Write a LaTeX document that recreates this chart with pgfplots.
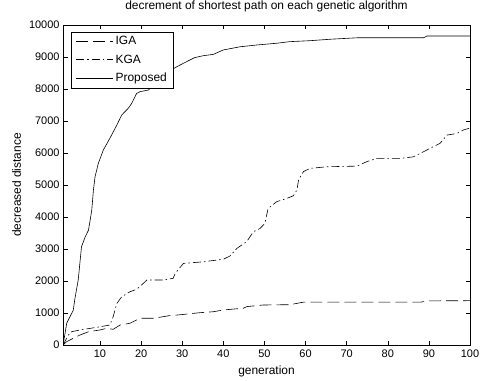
\documentclass[border=0pt]{standalone}
\usepackage{fontspec}
\setmainfont{Liberation Sans}
\usepackage{pgfplots}
\pgfplotsset{compat=1.18}
\begin{document}
\begin{tikzpicture}[x=1bp,y=1bp]
\useasboundingbox (-63,-35) rectangle (417,345);
\begin{axis}[
  at={(0,0)}, anchor=south west,
  scale only axis, width=407bp, height=320bp,
  xmin=1, xmax=100, ymin=0, ymax=10000,
  xtick={10,20,...,100},
  ytick={0,1000,...,10000},
  tick align=inside, major tick length=4.5bp,
  tick style={black, line width=0.5bp},
  axis line style={black, line width=0.6bp},
  scaled ticks=false,
  /pgf/number format/1000 sep={},
  /pgf/number format/assume math mode=true,
  tick label style={font=\fontsize{11}{13}\selectfont},
  xticklabel style={yshift=-1.5bp},
  label style={font=\fontsize{12}{14}\selectfont},
  title style={font=\fontsize{12}{14}\selectfont, at={(axis description cs:0.5,1)}, anchor=south, inner sep=0pt, yshift=6.5bp},
  title={decrement of shortest path on each genetic algorithm},
  xlabel={generation},
  ylabel={decreased distance},
  xlabel style={at={(axis description cs:0.5,0)}, anchor=center, inner sep=0pt, yshift=-26.5bp},
  ylabel style={at={(axis description cs:-0.1143,0.5)}, anchor=center, inner sep=0pt},
  legend style={at={(axis description cs:0.019,0.979)}, anchor=north west, draw=black, line width=0.6bp,
    font=\fontsize{12}{14}\selectfont, inner xsep=5bp, inner ysep=2.5bp, row sep=4.5bp, fill=white},
  legend cell align=left,
  legend image code/.code={\draw[#1] (0bp,0bp) -- (37bp,0bp);},
]
\addplot[black, line width=0.6bp, dash pattern=on 12bp off 5bp] coordinates {
(1,0) (1.9,105) (3.5,210) (5.1,310) (7.2,415) (10,470) (11.6,520) (13.2,490)
(14.9,625) (17.3,680) (19.7,835) (23,835) (27,920) (29.1,940) (34.3,1010)
(37.6,1040) (40,1095) (44.9,1150) (45.7,1200) (49.7,1250) (56.2,1260)
(59.5,1340) (65.2,1340) (88,1340) (90,1380) (100,1385)};
\addlegendentry{IGA}
\addplot[black, line width=0.6bp, dash pattern=on 8bp off 3bp on 1.5bp off 3bp] coordinates {
(1,0) (2.3,310) (3.1,415) (5.1,470) (7.6,520) (10,570) (12.4,625) (13.2,885)
(14.1,1300) (15.3,1510) (17.3,1665) (18.9,1740) (20.1,1875) (21.4,2030)
(25.4,2030) (27.8,2085) (28.3,2240) (30.3,2550) (35.1,2600) (40,2680)
(41.6,2780) (43.3,3020) (45.7,3230) (47.3,3540) (48.9,3640) (50.1,3800)
(50.9,4270) (53,4480) (55.4,4580) (57,4660) (57.9,4840) (58.3,5160)
(59.5,5420) (61.1,5520) (65.2,5570) (72.5,5590) (74.9,5730) (77.3,5830)
(83,5830) (86.2,5880) (88.7,6040) (91.1,6200) (92.7,6300) (94.4,6560)
(96.8,6610) (98.4,6720) (100,6780)};
\addlegendentry{KGA}
\addplot[black, line width=0.6bp] coordinates {
(1,0) (1.5,365) (1.9,680) (2.7,885) (3.5,1090) (3.9,1450) (4.7,2030)
(5.1,2550) (5.5,3070) (6.4,3380) (7.2,3590) (7.6,3900) (8.0,4220)
(8.4,4840) (8.8,5260) (9.6,5680) (10.8,6090) (12.4,6460) (14.1,6875)
(15.3,7190) (16.9,7400) (17.7,7550) (18.9,7860) (19.7,7915) (21.8,7970)
(24,8250) (26,8500) (28.7,8697) (31,8850) (33,8980) (35.1,9040) (37.6,9083)
(40,9220) (44.1,9320) (48.1,9375) (53,9430) (56.2,9480) (61.1,9510)
(66,9555) (72.5,9600) (88.7,9600) (89.5,9655) (100,9655)};
\addlegendentry{Proposed}
\end{axis}
\end{tikzpicture}
\end{document}
